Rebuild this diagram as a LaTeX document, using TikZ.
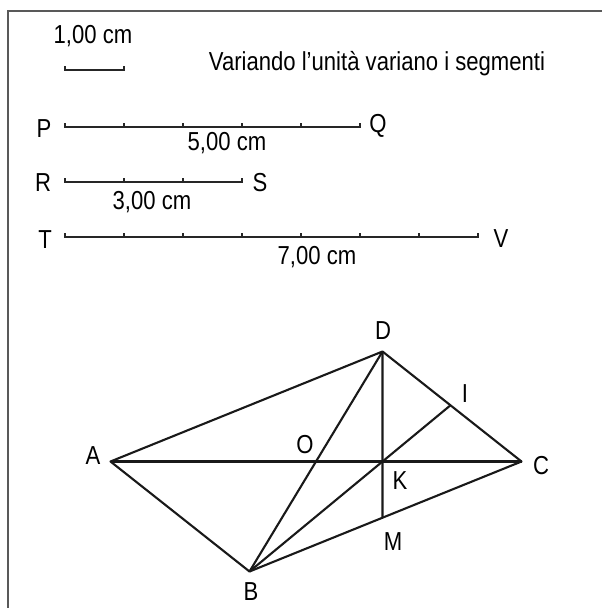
\documentclass[tikz,border=0pt]{standalone}
\usepackage{fontspec}
\setmainfont{Liberation Sans}[FakeStretch=0.85]
\usetikzlibrary{calc}

\begin{document}
\begin{tikzpicture}[
    x=1pt, y=-1pt,
    lbl/.style={font=\fontsize{26}{30}\selectfont, inner sep=0pt},
    seg/.style={line width=2pt, black!85, line cap=butt},
    tick/.style={line width=1.7pt, black!85},
    edge/.style={line width=2.1pt, black!90, line join=round}
]
\useasboundingbox (0,0) rectangle (602,608);
% frame
\draw[line width=1.6pt, black!65] (8,610) -- (8,11) -- (604,11);

% unit and title
\node[lbl] (unitlbl) at (93,36) {1,00 cm};
\node[lbl] (title) at (377,64) {Variando l’unità variano i segmenti};
\coordinate (U0) at (65,70);
\coordinate (U1) at (124,70);
\draw[seg] (U0) -- (U1);
\foreach \k in {0,1} \draw[tick] (65+\k*59,70.9) -- ++(0,-5);

% segment PQ
\node[lbl] (P) at (44,129) {P};
\node[lbl] (Q) at (378,126) {Q};
\coordinate (P0) at (65,127);
\coordinate (Q0) at (360,127);
\draw[seg] (P0) -- (Q0);
\foreach \k in {0,...,5} \draw[tick] (65+\k*59,127.9) -- ++(0,-5);
\node[lbl] (pqlen) at (227,143) {5,00 cm};

% segment RS
\node[lbl] (R) at (43,183) {R};
\node[lbl] (S) at (260,183) {S};
\coordinate (R0) at (65,182);
\coordinate (S0) at (242,182);
\draw[seg] (R0) -- (S0);
\foreach \k in {0,...,3} \draw[tick] (65+\k*59,182.9) -- ++(0,-5);
\node[lbl] (rslen) at (152,202) {3,00 cm};

% segment TV
\node[lbl] (T) at (45,240) {T};
\node[lbl] (V) at (501,239) {V};
\coordinate (T0) at (65,237);
\coordinate (V0) at (478,237);
\draw[seg] (T0) -- (V0);
\foreach \k in {0,...,7} \draw[tick] (65+\k*59,237.9) -- ++(0,-5);
\node[lbl] (tvlen) at (317,257) {7,00 cm};

% parallelogram
\coordinate (A) at (110.5,461.5);
\coordinate (C) at (521.5,461.5);
\coordinate (D) at (382.5,351.5);
\coordinate (B) at (249.5,571.5);
\coordinate (O) at ($(A)!0.5!(C)$);
\coordinate (K) at (D |- A);
\coordinate (M) at (intersection of D--K and B--C);
\coordinate (I) at (intersection of B--K and D--C);

\draw[edge] (A) -- (B) -- (C) -- (D) -- cycle;
\draw[edge] (A) -- (C);
\draw[edge] (B) -- (D);
\draw[edge] (D) -- (M);
\draw[edge] (B) -- (I);

% labels
\node[lbl] (Albl) at (93,456) {A};
\node[lbl] (Blbl) at (251,592) {B};
\node[lbl] (Clbl) at (541,466) {C};
\node[lbl] (Dlbl) at (383,331) {D};
\node[lbl] (Olbl) at (305,445) {O};
\node[lbl] (Klbl) at (400,481) {K};
\node[lbl] (Mlbl) at (393,542) {M};
\node[lbl] (Ilbl) at (465,394) {I};
\end{tikzpicture}
\end{document}
